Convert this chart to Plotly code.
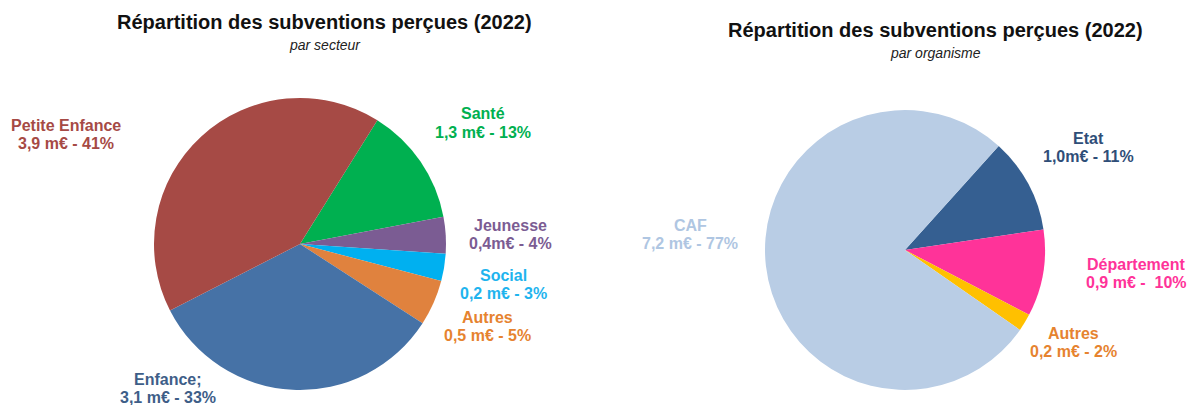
import plotly.graph_objects as go

# Subventions par secteur (2022)
secteurs = ["Santé", "Jeunesse", "Social", "Autres", "Enfance;", "Petite Enfance"]
secteurs_pct = [13, 4, 3, 5, 33, 41]
secteurs_montant = ["1,3 m€ - 13%", "0,4m€ - 4%", "0,2 m€ - 3%", "0,5 m€ - 5%",
                    "3,1 m€ - 33%", "3,9 m€ - 41%"]
secteurs_couleurs = ["#00B050", "#7B5C93", "#00B0F0", "#E0823E", "#4672A6", "#A64A45"]
secteurs_texte = ["#00B050", "#7B5C93", "#1FB4EE", "#E6832F", "#3E5E88", "#A64A45"]

# Subventions par organisme (2022)
organismes = ["Etat", "Département", "Autres", "CAF"]
organismes_pct = [11, 10, 2, 77]
organismes_montant = ["1,0m€ - 11%", "0,9 m€ -  10%", "0,2 m€ - 2%", "7,2 m€ - 77%"]
organismes_couleurs = ["#355F91", "#FF3399", "#FFC000", "#B9CDE5"]
organismes_texte = ["#2F4E78", "#FF3399", "#E6832F", "#AFC6E2"]

W, H = 1190, 405
FONT = "Liberation Sans, Arial"


def px(x, y):
    return x / W, 1 - y / H


def dom(x0, x1, y0, y1):
    a, b = px(x0, y1)
    c, d = px(x1, y0)
    return dict(x=[a, c], y=[b, d])


fig = go.Figure()

fig.add_trace(go.Pie(
    labels=secteurs, values=secteurs_pct, sort=False, direction="clockwise",
    rotation=32, marker=dict(colors=secteurs_couleurs), textinfo="none",
    hoverinfo="label+percent", showlegend=False,
    domain=dom(154, 446, 98, 390),
))

fig.add_trace(go.Pie(
    labels=organismes, values=organismes_pct, sort=False, direction="clockwise",
    rotation=42, marker=dict(colors=organismes_couleurs), textinfo="none",
    hoverinfo="label+percent", showlegend=False,
    domain=dom(765, 1045, 110, 390),
))

# label positions (pixels, centre of the two-line block)
pos_secteurs = [(483, 123), (510, 234), (503, 284), (487, 326), (168, 388), (66, 134)]
pos_organismes = [(1088, 147), (1136, 273), (1073, 342), (690, 234)]


def ajoute(annotations, x, y, text, size, color):
    ax, ay = px(x, y)
    annotations.append(dict(
        x=ax, y=ay, xref="paper", yref="paper", showarrow=False,
        xanchor="center", yanchor="middle", text=text,
        font=dict(family=FONT, size=size, color=color),
    ))


annotations = []
labels = list(zip(secteurs, secteurs_montant, secteurs_texte, pos_secteurs)) + \
    list(zip(organismes, organismes_montant, organismes_texte, pos_organismes))
for lab, txt, col, (x, y) in labels:
    ajoute(annotations, x, y - 9, f"<b>{lab}</b>", 16, col)
    ajoute(annotations, x, y + 9, f"<b>{txt}</b>", 16, col)

# titles
for (x, y), sous in [((325, 22), "par secteur"), ((935, 30), "par organisme")]:
    ajoute(annotations, x, y, "<b>Répartition des subventions perçues (2022)</b>", 20, "#111111")
    ajoute(annotations, x, y + 23, f"<i>{sous}</i>", 14, "#222222")

fig.update_layout(
    width=W, height=H,
    margin=dict(l=0, r=0, t=0, b=0),
    paper_bgcolor="white", plot_bgcolor="white",
    annotations=annotations,
)

# drop the default 8px body margin so the figure fills the window
fig.write_html(
    "out.html",
    config={"displayModeBar": False},
    post_script="document.body.style.margin = '0';",
)
